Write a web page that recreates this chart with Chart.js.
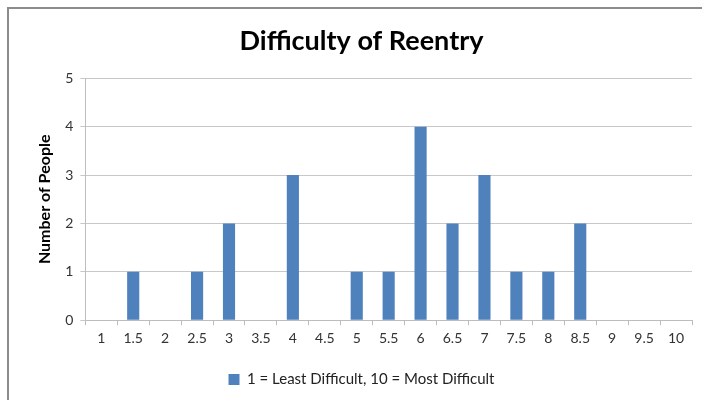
<!DOCTYPE html>
<html lang="en">
<head>
    <meta charset="UTF-8">
    <script src="https://cdn.jsdelivr.net/npm/chart.js@4.4.1/dist/chart.umd.min.js"></script>
    <title>Difficulty of Reentry</title>
    <style>
        body { margin: 0; background: #fff; }
        #frame { position: absolute; left: 7px; top: 7px; width: 702px; height: 400px;
                 border-left: 2px solid #8c8c8c; border-top: 2px solid #8c8c8c; }
        #box { position: absolute; left: 0; top: 0; width: 702px; height: 400px; }
    </style>
</head>
<body>
    <div id="frame"></div>
    <div id="box"><canvas id="myChart"></canvas></div>

    <script>
        var scores = ['1', '1.5', '2', '2.5', '3', '3.5', '4', '4.5', '5', '5.5',
                      '6', '6.5', '7', '7.5', '8', '8.5', '9', '9.5', '10'];
        var people = [0, 1, 0, 1, 2, 0, 3, 0, 1, 1, 4, 2, 3, 1, 1, 2, 0, 0, 0];
        var yTicks = [0, 1, 2, 3, 4, 5];

        var ctx = document.getElementById('myChart').getContext('2d');
        var chart = new Chart(ctx, {
            type: 'bar',
            data: {
                labels: scores,
                datasets: [{
                    label: '1 = Least Difficult, 10 = Most Difficult',
                    data: people,
                    backgroundColor: '#4f81bd',
                    categoryPercentage: 1,
                    barPercentage: 0.38
                }]
            },
            options: {
                responsive: true,
                maintainAspectRatio: false,
                animation: false,
                layout: { padding: { left: 31, right: 10, top: 14, bottom: 3 } },
                plugins: {
                    title: {
                        display: true,
                        text: 'Difficulty of Reentry',
                        color: '#000',
                        font: { family: 'Lato', size: 27, weight: 'bold' },
                        padding: { top: 11, bottom: 21 }
                    },
                    legend: {
                        position: 'bottom',
                        labels: {
                            color: '#222',
                            font: { family: 'Lato', size: 15 },
                            boxWidth: 11,
                            boxHeight: 11,
                            padding: 20
                        }
                    },
                    tooltip: { enabled: false }
                },
                scales: {
                    x: {
                        grid: { display: true, drawOnChartArea: false, color: '#bdbdbd', tickLength: 5, offset: true },
                        border: { color: '#bdbdbd' },
                        ticks: { color: '#333', font: { family: 'Lato', size: 14 }, maxRotation: 0, autoSkip: false, padding: 5 }
                    },
                    y: {
                        min: 0,
                        max: 5,
                        afterBuildTicks: function (axis) {
                            axis.ticks = yTicks.map(function (v) { return { value: v }; });
                        },
                        grid: { color: '#c8c8c8', tickLength: 5 },
                        border: { color: '#bdbdbd' },
                        ticks: { color: '#333', font: { family: 'Lato', size: 14 }, padding: 7 },
                        title: {
                            display: true,
                            text: 'Number of People',
                            color: '#000',
                            font: { family: 'Lato', size: 16, weight: 'bold' },
                            padding: { bottom: 4 }
                        }
                    }
                }
            }
        });
    </script>
</body>
</html>
